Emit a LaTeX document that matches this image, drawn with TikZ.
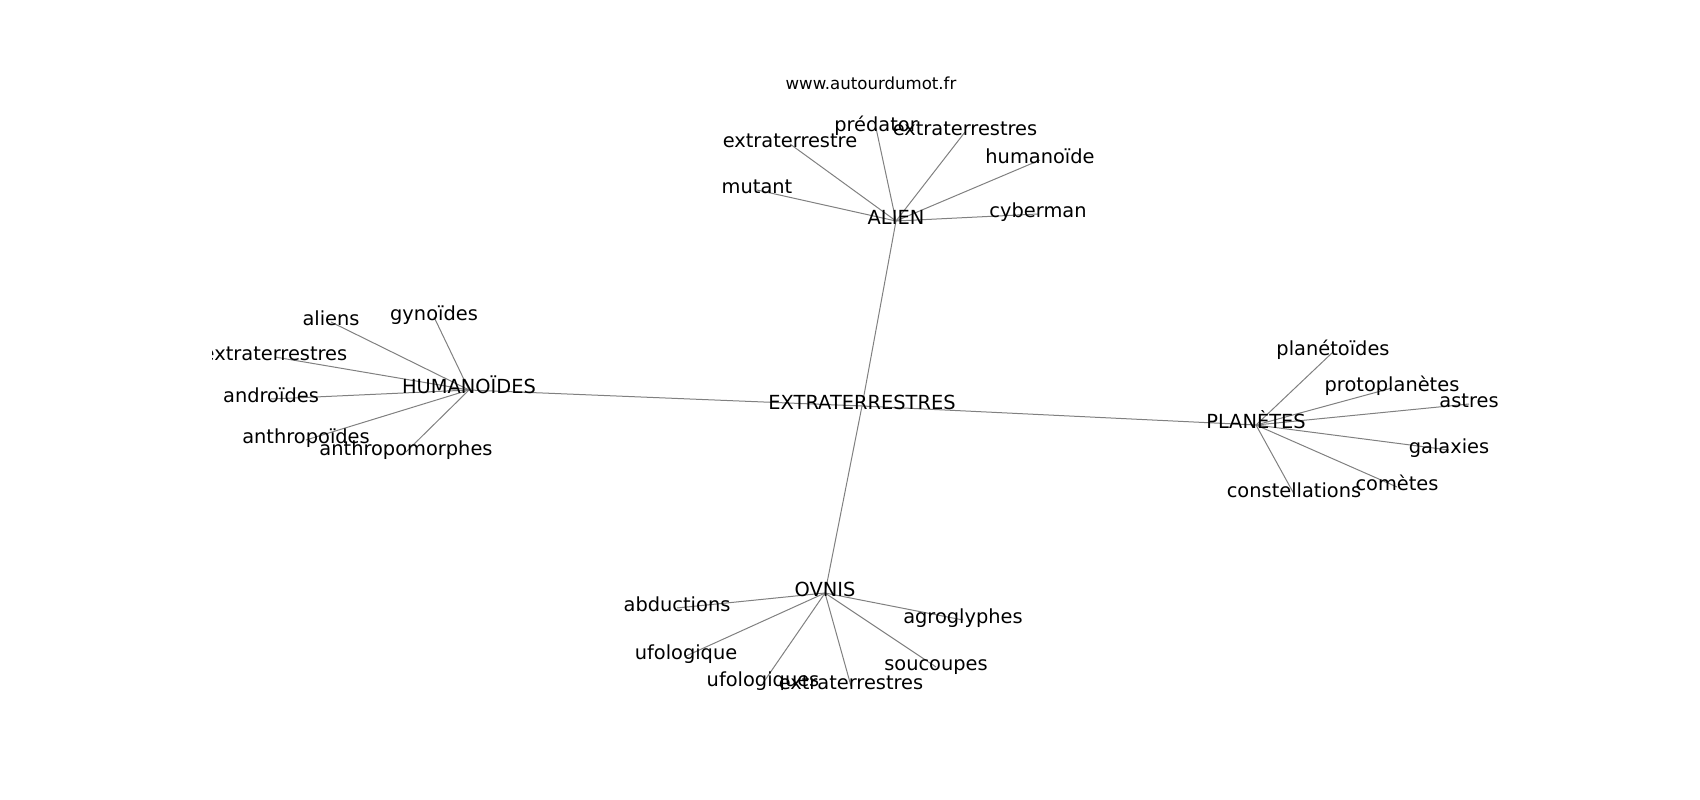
\documentclass[tikz,border=0pt]{standalone}
\usepackage{fontspec}
\setmainfont{DejaVu Sans}
\usetikzlibrary{backgrounds}

\begin{document}
\begin{tikzpicture}[x=1pt,y=-1pt,
  word/.style={inner sep=0pt,anchor=center,text height=7.4pt,text depth=-7.4pt,font=\fontsize{19.4}{23}\selectfont},
  edge/.style={draw=gray,line width=1pt}]

\useasboundingbox (0,0) rectangle (1700,800);

\begin{scope}[yshift=-4pt]
\node[inner sep=0pt,text height=6.2pt,text depth=-6.2pt,font=\fontsize{16.6}{19}\selectfont] (site) at (871,82) {www.autourdumot.fr};

\begin{scope}
\clip (212.5,96) rectangle (1530,712);

%centre
\node[word] (ext) at (862,402) {EXTRATERRESTRES};

%alien
\node[word] (alien) at (896,217) {ALIEN};
\node[word] (a1) at (876,124) {prédator};
\node[word] (a2) at (965,128) {extraterrestres};
\node[word] (a3) at (790,140) {extraterrestre};
\node[word] (a4) at (1040,156) {humanoïde};
\node[word] (a5) at (757,186) {mutant};
\node[word] (a6) at (1038,210) {cyberman};

%humanoides
\node[word] (hum) at (469,386) {HUMANOÏDES};
\node[word] (h1) at (331,318) {aliens};
\node[word] (h2) at (434,313) {gynoïdes};
\node[word] (h3) at (275,353) {extraterrestres};
\node[word] (h4) at (271,395) {androïdes};
\node[word] (h5) at (306,436) {anthropoïdes};
\node[word] (h6) at (406,448) {anthropomorphes};

%planetes
\node[word] (pla) at (1256,421) {PLANÈTES};
\node[word] (p1) at (1333,348) {planétoïdes};
\node[word] (p2) at (1392,384) {protoplanètes};
\node[word] (p3) at (1469,400) {astres};
\node[word] (p4) at (1449,446) {galaxies};
\node[word] (p5) at (1397,483) {comètes};
\node[word] (p6) at (1294,490) {constellations};

%ovnis
\node[word] (ovn) at (825,589) {OVNIS};
\node[word] (o1) at (677,604) {abductions};
\node[word] (o2) at (686,652) {ufologique};
\node[word] (o3) at (763,679) {ufologiques};
\node[word] (o4) at (851,682) {extraterrestres};
\node[word] (o5) at (936,663) {soucoupes};
\node[word] (o6) at (963,616) {agroglyphes};
\end{scope}

\begin{scope}[on background layer]
\path[edge] (ext.center) -- (alien.center);
\path[edge] (ext.center) -- (hum.center);
\path[edge] (ext.center) -- (pla.center);
\path[edge] (ext.center) -- (ovn.center);

\path[edge] (alien.center) -- (a1.center);
\path[edge] (alien.center) -- (a2.center);
\path[edge] (alien.center) -- (a3.center);
\path[edge] (alien.center) -- (a4.center);
\path[edge] (alien.center) -- (a5.center);
\path[edge] (alien.center) -- (a6.center);

\path[edge] (hum.center) -- (h1.center);
\path[edge] (hum.center) -- (h2.center);
\path[edge] (hum.center) -- (h3.center);
\path[edge] (hum.center) -- (h4.center);
\path[edge] (hum.center) -- (h5.center);
\path[edge] (hum.center) -- (h6.center);

\path[edge] (pla.center) -- (p1.center);
\path[edge] (pla.center) -- (p2.center);
\path[edge] (pla.center) -- (p3.center);
\path[edge] (pla.center) -- (p4.center);
\path[edge] (pla.center) -- (p5.center);
\path[edge] (pla.center) -- (p6.center);

\path[edge] (ovn.center) -- (o1.center);
\path[edge] (ovn.center) -- (o2.center);
\path[edge] (ovn.center) -- (o3.center);
\path[edge] (ovn.center) -- (o4.center);
\path[edge] (ovn.center) -- (o5.center);
\path[edge] (ovn.center) -- (o6.center);
\end{scope}
\end{scope}

\end{tikzpicture}
\end{document}
